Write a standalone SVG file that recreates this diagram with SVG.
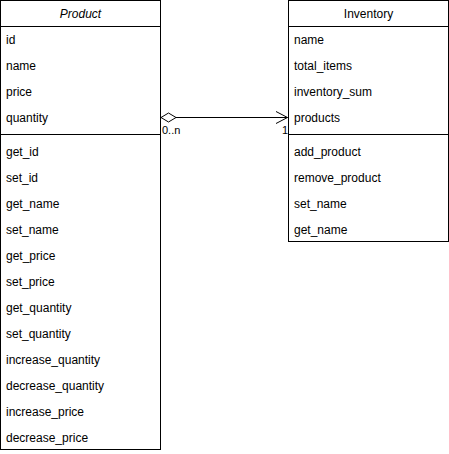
<svg xmlns="http://www.w3.org/2000/svg" width="449" height="454" viewBox="0 0 449 454">
<style>
.box{fill:#fff;stroke:#000;stroke-width:1}
.ln{stroke:#000;stroke-width:1;fill:none}
text{font-family:"Liberation Sans",Arial,sans-serif;font-size:12px;fill:#000}
.t{text-anchor:middle}
.lbl{font-size:11px}
</style>
<rect width="449" height="454" fill="#fff"/>
<g id="product">
<rect class="box" x="0.5" y="0.5" width="160" height="449"/>
<line class="ln" x1="0.5" y1="26.5" x2="160.5" y2="26.5"/>
<line class="ln" x1="0.5" y1="134.5" x2="160.5" y2="134.5"/>
<text class="t" x="80.5" y="18" font-style="italic">Product</text>
<text x="6" y="44">id</text>
<text x="6" y="70">name</text>
<text x="6" y="96">price</text>
<text x="6" y="122">quantity</text>
<text x="6" y="156">get_id</text>
<text x="6" y="182">set_id</text>
<text x="6" y="208">get_name</text>
<text x="6" y="234">set_name</text>
<text x="6" y="260">get_price</text>
<text x="6" y="286">set_price</text>
<text x="6" y="312">get_quantity</text>
<text x="6" y="338">set_quantity</text>
<text x="6" y="364">increase_quantity</text>
<text x="6" y="390">decrease_quantity</text>
<text x="6" y="416">increase_price</text>
<text x="6" y="442">decrease_price</text>
</g>
<g id="inventory">
<rect class="box" x="288.5" y="0.5" width="160" height="241"/>
<line class="ln" x1="288.5" y1="26.5" x2="448.5" y2="26.5"/>
<line class="ln" x1="288.5" y1="134.5" x2="448.5" y2="134.5"/>
<text class="t" x="368.5" y="18">Inventory</text>
<text x="294" y="44">name</text>
<text x="294" y="70">total_items</text>
<text x="294" y="96">inventory_sum</text>
<text x="294" y="122">products</text>
<text x="294" y="156">add_product</text>
<text x="294" y="182">remove_product</text>
<text x="294" y="208">set_name</text>
<text x="294" y="234">get_name</text>
</g>
<g id="connectors">
<line class="ln" x1="176" y1="117.5" x2="287.5" y2="117.5"/>
<path class="ln" d="M161,117.5 L168.5,113 L176,117.5 L168.5,122 Z" fill="#fff"/>
<path class="ln" d="M276,111.5 L287.5,117.5 L276,123.5"/>
<text class="lbl" x="162" y="134">0..n</text>
<text class="lbl" x="282" y="134">1</text>
</g>
</svg>
